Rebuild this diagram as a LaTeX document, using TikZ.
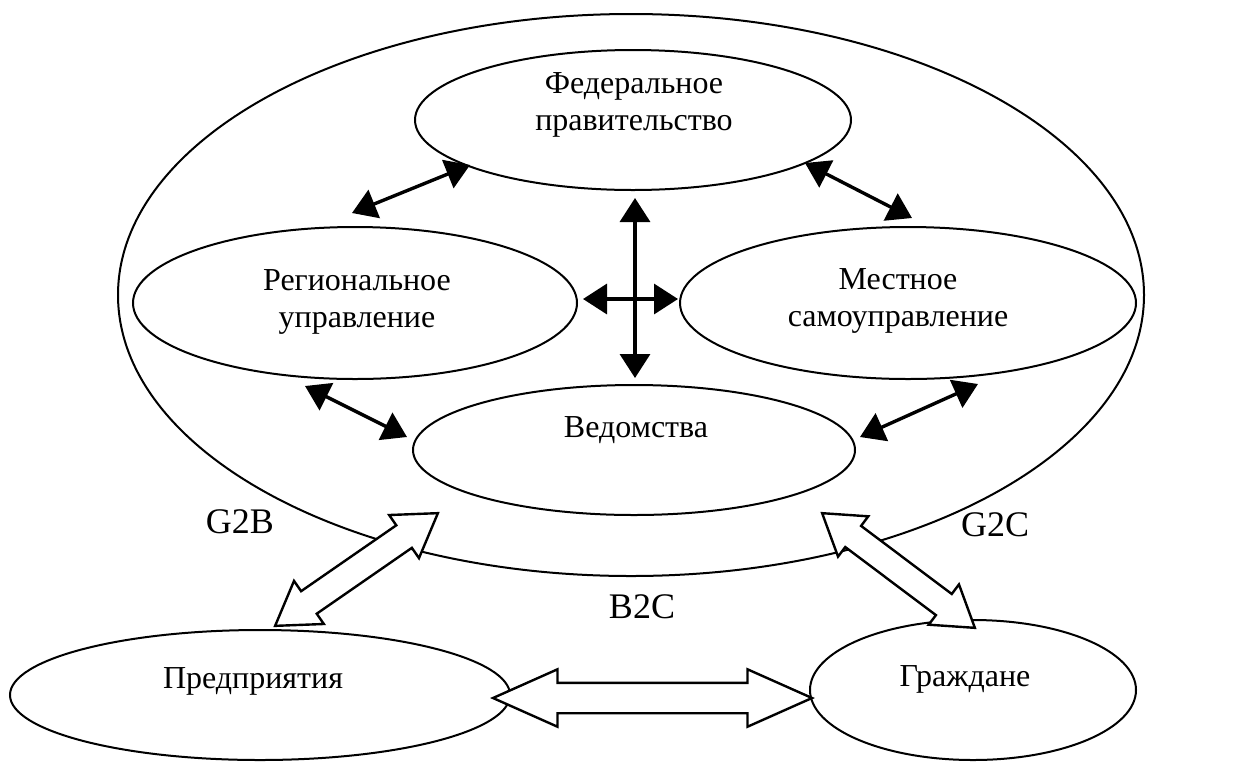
\documentclass[tikz,border=0pt]{standalone}
\usepackage{fontspec}
\setmainfont{Liberation Serif}
\usetikzlibrary{arrows.meta,shapes.geometric,shapes.arrows,calc}
\begin{document}
\begin{tikzpicture}[x=0.5pt,y=-0.5pt,
  oval/.style={draw, ellipse, line width=1pt, inner sep=0pt},
  lbl/.style={align=center, font=\fontsize{16}{18.5}\selectfont, inner sep=0pt},
  code/.style={font=\fontsize{18}{20}\selectfont, inner sep=0pt},
  blk/.style={line width=1.7pt, {Triangle[length=12pt,width=15pt]}-{Triangle[length=12pt,width=15pt]}},
  hollow/.style={draw, double arrow, line width=1.2pt, fill=white, inner xsep=0pt}
]
\useasboundingbox (0,0) rectangle (1242,767);
% ellipses
\node[oval, minimum width=513pt, minimum height=281pt] (gov) at (631,295) {};
\node[oval, minimum width=218pt, minimum height=70pt] (fed) at (633,120) {};
\node[oval, minimum width=222pt, minimum height=76pt] (reg) at (355,303) {};
\node[oval, minimum width=228pt, minimum height=76pt] (loc) at (908,303) {};
\node[oval, minimum width=221pt, minimum height=65pt] (ved) at (634,450) {};
\node[oval, minimum width=250pt, minimum height=65pt] (ent) at (260,695) {};
\node[oval, minimum width=163pt, minimum height=70pt] (cit) at (973,690) {};
% texts
\node[lbl] (tfed) at (634,105) {Федеральное\\правительство};
\node[lbl] (treg) at (357,302) {Региональное\\управление};
\node[lbl] (tloc) at (898,301) {Местное\\самоуправление};
\node[lbl] (tved) at (636,430) {Ведомства};
\node[lbl] (tent) at (253,681) {Предприятия};
\node[lbl] (tcit) at (965,679) {Граждане};
\node[code] (g2b) at (240,522) {G2B};
\node[code] (g2c) at (995,525) {G2C};
\node[code] (b2c) at (642,607) {B2C};
% small black arrows
\coordinate (a1) at (352,213); \coordinate (a2) at (470,165);
\coordinate (b1) at (805,163); \coordinate (b2) at (912,218);
\coordinate (c1) at (305,386); \coordinate (c2) at (407,437);
\coordinate (d1) at (860,437); \coordinate (d2) at (978,384);
\coordinate (v1) at (635,198); \coordinate (v2) at (635,378);
\coordinate (h1) at (583,299); \coordinate (h2) at (678,299);
\draw[blk] (a1) -- (a2);
\draw[blk] (b1) -- (b2);
\draw[blk] (c1) -- (c2);
\draw[blk] (d1) -- (d2);
\draw[blk] (v1) -- (v2);
\draw[blk] (h1) -- (h2);
% hollow arrows
\coordinate (p1) at (275,626); \coordinate (p2) at (438,513);
\coordinate (q1) at (822,513); \coordinate (q2) at (975,628);
\coordinate (r1) at (493,698); \coordinate (r2) at (812,698);
\node[hollow, minimum height=99pt, inner ysep=6.25pt, double arrow head extend=6.25pt, double arrow tip angle=65, rotate=34.7] (ag2b) at ($(p1)!0.5!(p2)$) {};
\node[hollow, minimum height=95.5pt, inner ysep=6pt, double arrow head extend=6pt, double arrow tip angle=66, rotate=-36.9] (ag2c) at ($(q1)!0.5!(q2)$) {};
\node[hollow, minimum height=159.5pt, inner ysep=7pt, double arrow head extend=6.75pt, double arrow tip angle=48] (ab2c) at ($(r1)!0.5!(r2)$) {};
\end{tikzpicture}
\end{document}
